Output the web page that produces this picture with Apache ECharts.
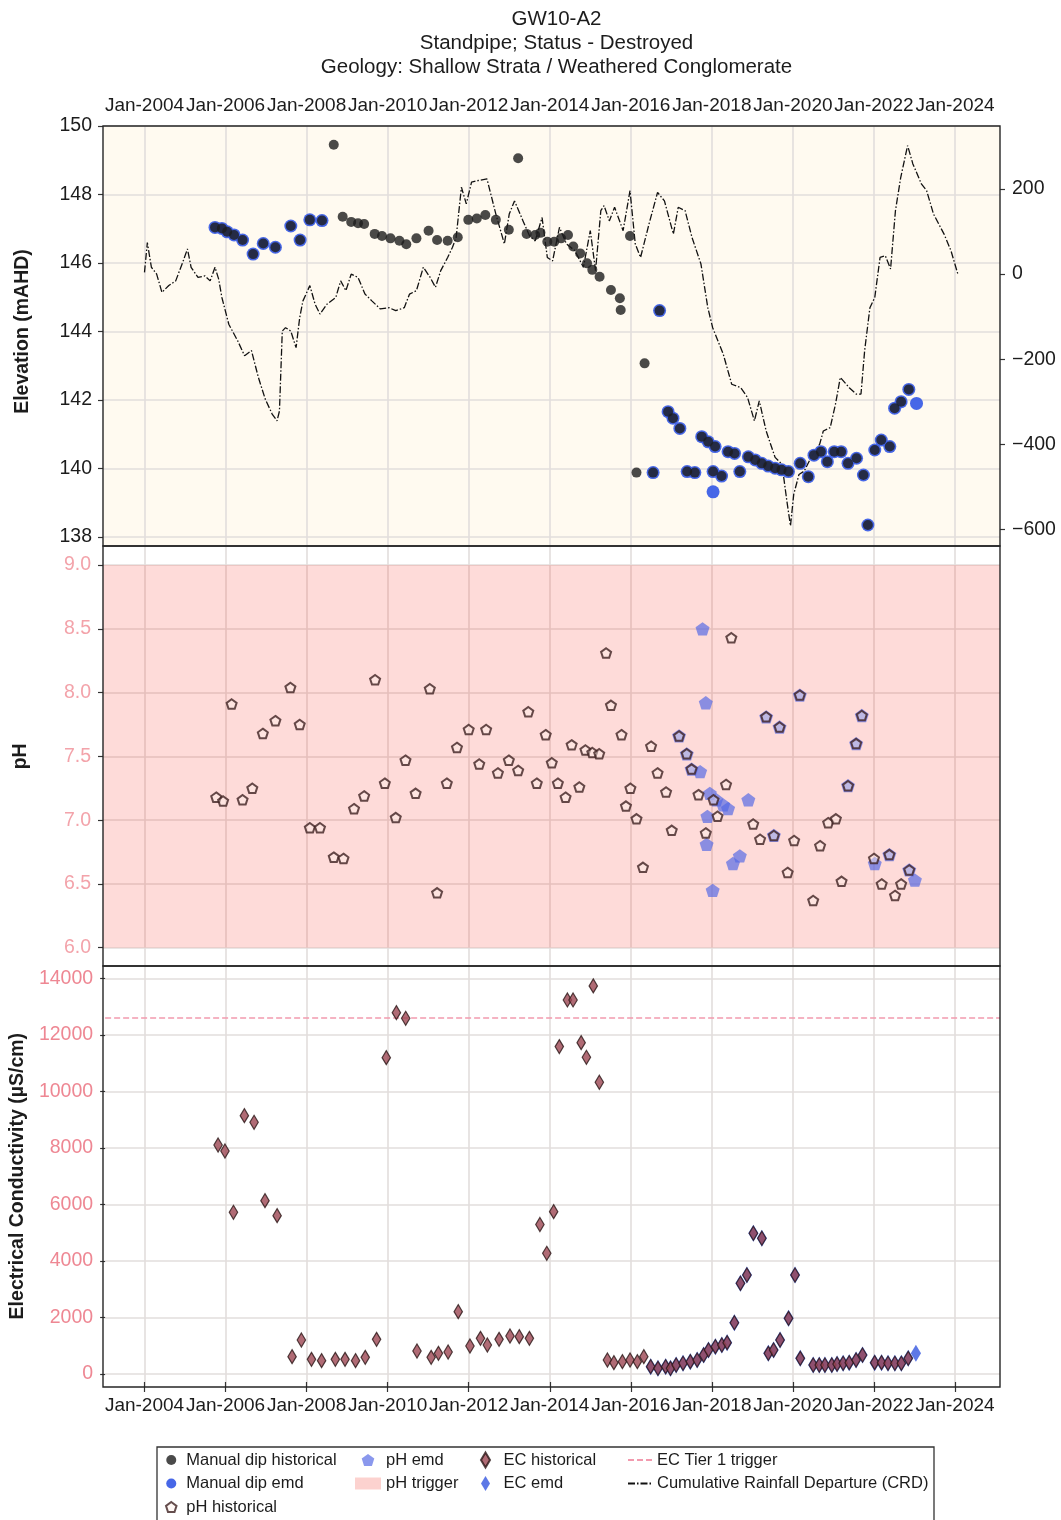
<!DOCTYPE html>
<html>
<head>
<meta charset="utf-8">
<title>GW10-A2</title>
<script src="https://cdn.jsdelivr.net/npm/echarts@6/dist/echarts.min.js"></script>
<style>
  html, body { margin: 0; padding: 0; background: #ffffff; }
  #chart { width: 1061px; height: 1520px; }
</style>
</head>
<body>
<div id="chart"></div>
<script>
// ---------------------------------------------------------------------------
// Monitoring bore GW10-A2 : water level, pH and EC with rainfall departure.
// Dates are decimal years.
// ---------------------------------------------------------------------------
const titleLines = [
  'GW10-A2',
  'Standpipe; Status - Destroyed',
  'Geology: Shallow Strata / Weathered Conglomerate'
];

// Manual dip water level (mAHD)
const dipHistorical = [
  [2005.74,147.04],[2005.91,147.01],[2006.04,146.91],[2006.21,146.82],[2006.42,146.67],[2006.68,146.26],
  [2006.93,146.57],[2007.23,146.46],[2007.61,147.08],[2007.84,146.67],[2008.08,147.26],[2008.38,147.24],
  [2008.67,149.45],[2008.89,147.35],[2009.10,147.20],[2009.27,147.16],[2009.42,147.14],[2009.68,146.85],
  [2009.86,146.79],[2010.07,146.72],[2010.29,146.65],[2010.46,146.55],[2010.71,146.72],[2011.01,146.94],
  [2011.22,146.67],[2011.48,146.65],[2011.73,146.75],[2011.99,147.26],[2012.20,147.30],[2012.41,147.40],
  [2012.67,147.26],[2012.99,146.97],[2013.22,149.06],[2013.43,146.85],[2013.64,146.82],[2013.77,146.88],
  [2013.94,146.62],[2014.11,146.62],[2014.28,146.72],[2014.45,146.82],[2014.58,146.48],[2014.75,146.28],
  [2014.92,145.99],[2015.05,145.80],[2015.23,145.60],[2015.51,145.21],[2015.73,144.97],[2015.75,144.63],
  [2015.98,146.79],[2016.14,139.88],[2016.34,143.07],[2016.55,139.88],[2016.71,144.61],[2016.92,141.66],
  [2017.04,141.47],[2017.21,141.17],[2017.39,139.91],[2017.58,139.88],[2017.75,140.93],[2017.91,140.78],
  [2018.08,140.64],[2018.03,139.91],[2018.24,139.78],[2018.40,140.49],[2018.56,140.44],[2018.69,139.91],
  [2018.90,140.34],[2019.07,140.25],[2019.23,140.15],[2019.39,140.07],[2019.56,140.01],[2019.72,139.96],
  [2019.89,139.91],[2020.18,140.15],[2020.38,139.76],[2020.52,140.39],[2020.69,140.49],[2020.85,140.20],
  [2021.02,140.49],[2021.19,140.49],[2021.36,140.15],[2021.57,140.30],[2021.74,139.81],[2021.85,138.35],
  [2022.02,140.54],[2022.18,140.83],[2022.39,140.64],[2022.51,141.76],[2022.67,141.95],[2022.86,142.31]
];
const dipEmd = [
  [2005.74,147.04],[2005.91,147.01],[2006.04,146.91],[2006.21,146.82],[2006.42,146.67],[2006.68,146.26],
  [2006.93,146.57],[2007.23,146.46],[2007.61,147.08],[2007.84,146.67],[2008.08,147.26],[2008.38,147.24],
  [2016.55,139.88],[2016.71,144.61],[2016.92,141.66],[2017.04,141.47],[2017.21,141.17],[2017.39,139.91],
  [2017.58,139.88],[2017.75,140.93],[2017.91,140.78],[2018.08,140.64],[2018.03,139.91],[2018.03,139.32],
  [2018.24,139.78],[2018.40,140.49],[2018.56,140.44],[2018.69,139.91],[2018.90,140.34],[2019.07,140.25],
  [2019.23,140.15],[2019.39,140.07],[2019.56,140.01],[2019.72,139.96],[2019.89,139.91],[2020.18,140.15],
  [2020.38,139.76],[2020.52,140.39],[2020.69,140.49],[2020.85,140.20],[2021.02,140.49],[2021.19,140.49],
  [2021.36,140.15],[2021.57,140.30],[2021.74,139.81],[2021.85,138.35],[2022.02,140.54],[2022.18,140.83],
  [2022.39,140.64],[2022.51,141.76],[2022.67,141.95],[2022.86,142.31],[2023.05,141.90]
];

// Cumulative rainfall departure (mm)
const crd = [
  [2004.00,4],[2004.07,74],[2004.17,16],[2004.30,0],[2004.43,-43],[2004.60,-27],[2004.77,-16],[2004.94,27],
  [2005.06,59],[2005.15,16],[2005.32,-8],[2005.49,-4],[2005.62,-16],[2005.74,16],[2005.83,-12],[2005.91,-55],
  [2006.08,-118],[2006.30,-157],[2006.47,-192],[2006.64,-180],[2006.81,-243],[2006.98,-294],[2007.15,-329],
  [2007.27,-345],[2007.33,-322],[2007.40,-134],[2007.48,-126],[2007.61,-134],[2007.74,-173],[2007.83,-102],
  [2007.91,-63],[2008.08,-27],[2008.21,-71],[2008.33,-94],[2008.50,-71],[2008.72,-55],[2008.84,-16],
  [2008.97,-39],[2009.10,0],[2009.27,-8],[2009.44,-47],[2009.61,-63],[2009.82,-82],[2010.03,-79],[2010.20,-86],
  [2010.41,-79],[2010.54,-47],[2010.71,-39],[2010.88,16],[2011.05,-8],[2011.18,-31],[2011.31,8],[2011.48,39],
  [2011.60,63],[2011.69,86],[2011.82,204],[2011.94,165],[2012.07,216],[2012.24,220],[2012.45,224],[2012.67,141],
  [2012.88,71],[2013.00,141],[2013.13,172],[2013.34,125],[2013.50,90],[2013.64,78],[2013.81,133],[2013.94,39],
  [2014.07,31],[2014.24,110],[2014.41,71],[2014.62,55],[2014.83,16],[2015.00,102],[2015.13,8],[2015.26,149],
  [2015.34,161],[2015.47,125],[2015.60,157],[2015.81,102],[2015.98,196],[2016.11,71],[2016.24,39],[2016.45,118],
  [2016.66,192],[2016.83,172],[2017.05,94],[2017.17,157],[2017.34,149],[2017.51,86],[2017.73,24],[2017.90,-79],
  [2018.02,-126],[2018.28,-188],[2018.49,-259],[2018.71,-267],[2018.88,-290],[2019.05,-345],[2019.17,-298],
  [2019.34,-369],[2019.56,-431],[2019.73,-447],[2019.85,-533],[2019.94,-592],[2020.02,-518],[2020.15,-471],
  [2020.28,-463],[2020.45,-431],[2020.66,-400],[2020.75,-369],[2020.92,-361],[2021.05,-306],[2021.17,-243],
  [2021.39,-267],[2021.56,-282],[2021.68,-282],[2021.77,-180],[2021.90,-79],[2022.02,-55],[2022.15,39],
  [2022.28,43],[2022.41,12],[2022.53,149],[2022.66,227],[2022.83,302],[2022.96,259],[2023.17,212],[2023.30,196],
  [2023.47,141],[2023.73,94],[2023.90,55],[2024.07,0]
];

// pH
const phHistorical = [
  [2005.77,7.18],[2005.94,7.15],[2006.15,7.91],[2006.42,7.16],[2006.66,7.25],[2006.92,7.68],[2007.23,7.78],
  [2007.60,8.04],[2007.83,7.75],[2008.08,6.94],[2008.33,6.94],[2008.67,6.71],[2008.91,6.70],[2009.17,7.09],
  [2009.42,7.19],[2009.69,8.10],[2009.93,7.29],[2010.20,7.02],[2010.44,7.47],[2010.69,7.21],[2011.04,8.03],
  [2011.22,6.43],[2011.46,7.29],[2011.71,7.57],[2012.00,7.71],[2012.26,7.44],[2012.43,7.71],[2012.72,7.37],
  [2012.99,7.47],[2013.22,7.39],[2013.47,7.85],[2013.68,7.29],[2013.90,7.67],[2014.05,7.45],[2014.20,7.29],
  [2014.39,7.18],[2014.54,7.59],[2014.73,7.26],[2014.88,7.55],[2015.05,7.53],[2015.22,7.52],[2015.39,8.31],
  [2015.51,7.90],[2015.77,7.67],[2015.88,7.11],[2015.99,7.25],[2016.14,7.01],[2016.30,6.63],[2016.50,7.58],
  [2016.66,7.37],[2016.87,7.22],[2017.01,6.92],[2017.19,7.66],[2017.38,7.52],[2017.50,7.40],[2017.67,7.20],
  [2017.85,6.90],[2018.04,7.16],[2018.14,7.03],[2018.35,7.28],[2018.48,8.43],[2019.02,6.97],[2019.19,6.85],
  [2019.34,7.81],[2019.53,6.88],[2019.67,7.73],[2019.87,6.59],[2020.03,6.84],[2020.17,7.98],[2020.50,6.37],
  [2020.67,6.80],[2020.87,6.98],[2021.06,7.01],[2021.20,6.52],[2021.36,7.27],[2021.56,7.60],[2021.70,7.82],
  [2022.00,6.70],[2022.19,6.50],[2022.38,6.73],[2022.52,6.41],[2022.67,6.50],[2022.87,6.61]
];
const phEmd = [
  [2017.19,7.66],[2017.38,7.52],[2017.50,7.40],[2017.71,7.38],[2017.77,8.50],[2017.85,7.92],[2017.87,6.81],
  [2017.89,7.03],[2017.95,7.21],[2018.02,6.45],[2018.11,7.16],[2018.28,7.12],[2018.40,7.09],[2018.52,6.66],
  [2018.69,6.72],[2018.90,7.16],[2019.34,7.81],[2019.53,6.88],[2019.67,7.73],[2020.17,7.98],[2021.36,7.27],
  [2021.56,7.60],[2021.70,7.82],[2022.02,6.66],[2022.38,6.73],[2022.87,6.61],[2023.01,6.53]
];
const phTrigger = [6.0, 9.0];

// Electrical conductivity (uS/cm)
const ecHistorical = [
  [2005.77,8103],[2005.94,7891],[2006.15,5721],[2006.42,9141],[2006.66,8905],[2006.93,6133],[2007.23,5603],
  [2007.60,613],[2007.83,1203],[2008.08,519],[2008.33,472],[2008.67,519],[2008.91,519],[2009.17,472],
  [2009.41,590],[2009.69,1227],[2009.93,11193],[2010.18,12785],[2010.41,12585],[2010.69,814],[2011.04,590],
  [2011.22,731],[2011.46,778],[2011.71,2205],[2012.00,991],[2012.26,1262],[2012.43,1026],[2012.72,1227],
  [2012.99,1345],[2013.22,1321],[2013.47,1262],[2013.73,5290],[2013.90,4270],[2014.07,5743],[2014.21,11583],
  [2014.41,13234],[2014.55,13234],[2014.75,11724],[2014.88,11205],[2015.05,13730],[2015.20,10322],
  [2015.40,495],[2015.56,401],[2015.77,436],[2015.96,495],[2016.14,436],[2016.30,613],[2016.47,260],
  [2016.65,200],[2016.84,260],[2016.96,200],[2017.10,318],[2017.27,378],[2017.45,436],[2017.62,495],
  [2017.78,672],[2017.90,849],[2018.07,967],[2018.23,1026],[2018.36,1108],[2018.54,1815],[2018.69,3209],
  [2018.85,3503],[2019.01,4979],[2019.22,4802],[2019.38,731],[2019.51,849],[2019.67,1203],[2019.88,1970],
  [2020.04,3503],[2020.17,554],[2020.49,318],[2020.64,318],[2020.78,318],[2020.95,318],[2021.08,354],
  [2021.23,378],[2021.38,401],[2021.55,495],[2021.71,672],[2022.01,401],[2022.18,401],[2022.34,378],
  [2022.51,378],[2022.67,378],[2022.84,554]
];
const ecEmd = [
  [2016.47,260],[2016.65,200],[2016.84,260],[2016.96,200],[2017.10,318],[2017.27,378],[2017.45,436],
  [2017.62,495],[2017.78,672],[2017.90,849],[2018.07,967],[2018.23,1026],[2018.36,1108],[2018.54,1815],
  [2018.69,3209],[2018.85,3503],[2019.01,4979],[2019.22,4802],[2019.38,731],[2019.51,849],[2019.67,1203],
  [2019.88,1970],[2020.04,3503],[2020.17,554],[2020.49,318],[2020.64,318],[2020.78,318],[2020.95,318],
  [2021.08,354],[2021.23,378],[2021.38,401],[2021.55,495],[2021.71,672],[2022.01,401],[2022.18,401],
  [2022.34,378],[2022.51,378],[2022.67,378],[2022.84,554],[2023.03,731]
];
const ecTier1 = 12600;

// Axis limits and tick settings
const dateExtent = [2002.976, 2025.110];   // auto-margined record period
const dateTicks = { min: 2004, max: 2024, step: 2 };
const elevAxis = { min: 138, max: 150, step: 2 };
const crdAxis = { min: -600, max: 200, step: 200 };
const phAxis = { min: 6, max: 9, step: 0.5 };
const ecAxis = { min: 0, max: 14000, step: 2000 };

// ---------------------------------------------------------------------------
const FONT = '"Liberation Sans", Arial, Helvetica, sans-serif';
const INK = '#1c1c1c';
const GRIDLINE = { color: '#e2dedc', width: 1.6 };
const PENTAGON = 'path://M0,-10L9.51,-3.09L5.88,8.09L-5.88,8.09L-9.51,-3.09Z';
const THIN_DIAMOND = 'path://M0,-10L6,0L0,10L-6,0Z';
const TICK = { show: true, inside: false, length: 5, lineStyle: { color: '#333', width: 1.2 } };

const L = 103, R = 61;           // plot frame left / right
const panels = [
  { top: 126, height: 420, bg: '#fffaf0' },
  { top: 546, height: 420, bg: '#ffffff' },
  { top: 966, height: 421, bg: '#ffffff' }
];

const grid = [];
const xAxis = [];
const yAxis = [];
const hiddenAxis = (gridIndex) => ({ gridIndex, type: 'value', show: false, min: 0, max: 1 });

// panel backgrounds
panels.forEach(p => {
  grid.push({ left: L, right: R, top: p.top, height: p.height, show: true,
              backgroundColor: p.bg, borderWidth: 0 });
  xAxis.push(hiddenAxis(grid.length - 1));
  yAxis.push(hiddenAxis(grid.length - 1));
});

// shared date axis: ticks on top and bottom, vertical grid lines through all panels
grid.push({ left: 144.5, right: 106, top: 126, height: 1261 });
const DATE_GRID = grid.length - 1;
const dateLabel = {
  fontFamily: FONT, fontSize: 19, color: INK,
  showMinLabel: true, showMaxLabel: true, hideOverlap: false,
  formatter: v => 'Jan-' + Math.round(v)
};
xAxis.push({
  gridIndex: DATE_GRID, type: 'value', position: 'top',
  min: dateTicks.min, max: dateTicks.max, interval: dateTicks.step,
  axisLine: { show: false }, axisTick: TICK,
  axisLabel: Object.assign({ margin: 11 }, dateLabel),
  splitLine: { show: true, lineStyle: GRIDLINE }
});
xAxis.push({
  gridIndex: DATE_GRID, type: 'value', position: 'bottom',
  min: dateTicks.min, max: dateTicks.max, interval: dateTicks.step,
  axisLine: { show: false }, axisTick: TICK,
  axisLabel: Object.assign({ margin: 9 }, dateLabel),
  splitLine: { show: false }
});
yAxis.push(hiddenAxis(DATE_GRID));

// data grids
function dataGrid(top, height) {
  grid.push({ left: L, right: R, top, height });
  const gi = grid.length - 1;
  xAxis.push({ gridIndex: gi, type: 'value', show: false, min: dateExtent[0], max: dateExtent[1] });
  return { grid: gi, x: xAxis.length - 1 };
}
function valueAxis(gi, ax, extra) {
  yAxis.push(Object.assign({
    gridIndex: gi, type: 'value', position: 'left',
    min: ax.min, max: ax.max, interval: ax.step,
    axisLine: { show: false }, axisTick: TICK,
    splitLine: { show: true, lineStyle: GRIDLINE },
    nameLocation: 'middle', nameRotate: 90,
    nameTextStyle: { fontFamily: FONT, fontSize: 19.5, fontWeight: 'bold', color: INK }
  }, extra));
  return yAxis.length - 1;
}

const gElev = dataGrid(126, 411);
const yElev = valueAxis(gElev.grid, elevAxis, {
  name: 'Elevation (mAHD)', nameGap: 70,
  axisLabel: { fontFamily: FONT, fontSize: 19.5, color: INK, margin: 11,
               showMinLabel: true, showMaxLabel: true }
});
const gCrd = dataGrid(189, 340.3);
const yCrd = valueAxis(gCrd.grid, crdAxis, {
  position: 'right', splitLine: { show: false },
  axisLabel: { fontFamily: FONT, fontSize: 19.5, color: INK, margin: 12,
               showMinLabel: true, showMaxLabel: true,
               formatter: v => (v < 0 ? '\u2212' + Math.abs(v) : String(v)) }
});
const gPh = dataGrid(565, 382.7);
const yPh = valueAxis(gPh.grid, phAxis, {
  name: 'pH', nameGap: 72,
  axisLabel: { fontFamily: FONT, fontSize: 19.5, color: '#f3a3aa', margin: 12,
               showMinLabel: true, showMaxLabel: true,
               formatter: v => v.toFixed(1) }
});
const gEc = dataGrid(978.3, 395.7);
const yEc = valueAxis(gEc.grid, ecAxis, {
  name: 'Electrical Conductivity (\u00b5S/cm)', nameGap: 70,
  axisLabel: { fontFamily: FONT, fontSize: 19.5, color: '#ee8793', margin: 12,
               showMinLabel: true, showMaxLabel: true,
               formatter: v => String(Math.round(v)) }
});

// panel spines on top of everything in the plot area
panels.forEach(p => {
  grid.push({ left: L, right: R, top: p.top, height: p.height, show: true, z: 6,
              backgroundColor: 'transparent', borderColor: '#262626', borderWidth: 1.4 });
  xAxis.push(hiddenAxis(grid.length - 1));
  yAxis.push(hiddenAxis(grid.length - 1));
});

// ---------------------------------------------------------------------------
const series = [
  {
    name: 'Cumulative Rainfall Departure (CRD)', type: 'line',
    xAxisIndex: gCrd.x, yAxisIndex: yCrd, data: crd,
    symbol: 'none', clip: false, z: 3,
    lineStyle: { color: '#111111', width: 1.3, type: [7, 2, 1.5, 2] },
    itemStyle: { color: '#111111' }
  },
  {
    name: 'Manual dip emd', type: 'scatter',
    xAxisIndex: gElev.x, yAxisIndex: yElev, data: dipEmd,
    symbol: 'circle', symbolSize: 13, z: 4,
    itemStyle: { color: '#3d5fe6', opacity: 0.95 }
  },
  {
    name: 'Manual dip historical', type: 'scatter',
    xAxisIndex: gElev.x, yAxisIndex: yElev, data: dipHistorical,
    symbol: 'circle', symbolSize: 10, z: 5,
    itemStyle: { color: '#1d1d1d', opacity: 0.8 }
  },
  {
    name: 'pH trigger', type: 'line',
    xAxisIndex: gPh.x, yAxisIndex: yPh, data: [], symbol: 'none',
    itemStyle: { color: '#fbcfcc' },
    lineStyle: { color: '#fbcfcc' },
    markArea: {
      silent: true,
      itemStyle: { color: 'rgba(250, 40, 30, 0.17)' },
      data: [[{ yAxis: phTrigger[0] }, { yAxis: phTrigger[1] }]]
    }
  },
  {
    name: 'pH emd', type: 'scatter',
    xAxisIndex: gPh.x, yAxisIndex: yPh, data: phEmd,
    symbol: PENTAGON, symbolKeepAspect: true, symbolSize: 14, z: 4,
    itemStyle: { color: 'rgba(84, 104, 228, 0.85)' }
  },
  {
    name: 'pH historical', type: 'scatter',
    xAxisIndex: gPh.x, yAxisIndex: yPh, data: phHistorical,
    symbol: PENTAGON, symbolKeepAspect: true, symbolSize: 10, z: 5,
    itemStyle: { color: 'rgba(255, 238, 232, 0.55)', borderColor: '#3f2222', borderWidth: 2 }
  },
  {
    name: 'EC Tier 1 trigger', type: 'line',
    xAxisIndex: gEc.x, yAxisIndex: yEc, data: [], symbol: 'none',
    itemStyle: { color: '#f29aae' },
    lineStyle: { color: '#f29aae', width: 1.5, type: [6, 3] },
    markLine: {
      silent: true, symbol: ['none', 'none'], label: { show: false },
      lineStyle: { color: '#f29aae', width: 1.5, type: [6, 3] },
      data: [{ yAxis: ecTier1 }]
    }
  },
  {
    name: 'EC emd', type: 'scatter',
    xAxisIndex: gEc.x, yAxisIndex: yEc, data: ecEmd,
    symbol: THIN_DIAMOND, symbolKeepAspect: true, symbolSize: 17, z: 4,
    itemStyle: { color: '#3456e0' }
  },
  {
    name: 'EC historical', type: 'scatter',
    xAxisIndex: gEc.x, yAxisIndex: yEc, data: ecHistorical,
    symbol: THIN_DIAMOND, symbolKeepAspect: true, symbolSize: 14, z: 5,
    itemStyle: { color: '#9c4652', borderColor: '#2a1616', borderWidth: 1.2 }
  }
];

// legend: four columns inside one framed box
const legendText = { fontFamily: FONT, fontSize: 16.5, color: INK, lineHeight: 18 };
const noMarker = { color: 'rgba(0,0,0,0)', borderColor: 'rgba(0,0,0,0)', borderWidth: 0, opacity: 0 };
const legendColumn = (left, items, w, h) => ({
  left, top: 1451, orient: 'vertical', padding: 0, itemGap: 5.5,
  itemWidth: w, itemHeight: h, selectedMode: false, z: 8,
  textStyle: legendText, data: items
});
const legend = [
  legendColumn(165, [
    { name: 'Manual dip historical', icon: 'circle' },
    { name: 'Manual dip emd', icon: 'circle' },
    { name: 'pH historical', icon: PENTAGON }
  ], 20, 10),
  legendColumn(355, [
    { name: 'pH emd', icon: PENTAGON },
    { name: 'pH trigger', icon: 'rect', itemStyle: { color: '#fcd2cf' } }
  ], 26, 12),
  legendColumn(480, [
    { name: 'EC historical', icon: THIN_DIAMOND },
    { name: 'EC emd', icon: THIN_DIAMOND }
  ], 26, 15),
  legendColumn(627, [
    { name: 'EC Tier 1 trigger', itemStyle: noMarker },
    { name: 'Cumulative Rainfall Departure (CRD)', itemStyle: noMarker }
  ], 24, 12)
];

const option = {
  backgroundColor: '#ffffff',
  animation: false,
  title: {
    text: titleLines.join('\n'),
    left: 551.5, top: 2, textAlign: 'center',
    textStyle: { fontFamily: FONT, fontSize: 20.5, fontWeight: 'normal', color: INK, lineHeight: 24 }
  },
  graphic: [{
    type: 'rect', z: 7, silent: true,
    shape: { x: 157, y: 1447, width: 777, height: 90 },
    style: { fill: '#ffffff', stroke: '#333333', lineWidth: 1.3 }
  }],
  legend,
  grid,
  xAxis,
  yAxis,
  series
};

const chart = echarts.init(document.getElementById('chart'), null, { renderer: 'canvas' });
chart.setOption(option);
</script>
</body>
</html>
